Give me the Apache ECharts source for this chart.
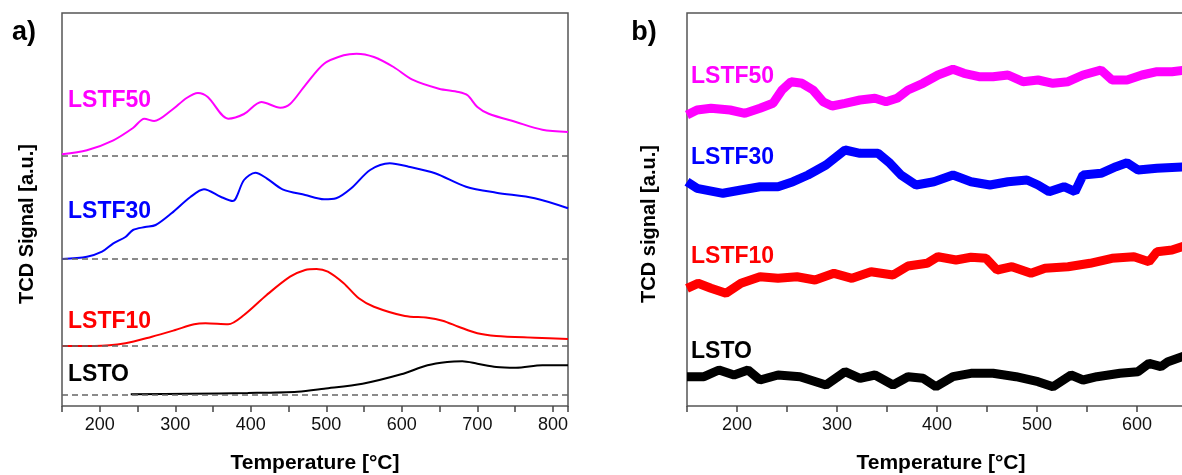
<!DOCTYPE html>
<html>
<head>
<meta charset="utf-8">
<script src="https://cdn.jsdelivr.net/npm/echarts@6/dist/echarts.min.js"></script>
<style>
  html, body { margin: 0; padding: 0; background: #fff; }
  #chart { width: 1182px; height: 475px; }
</style>
</head>
<body>
<div id="chart"></div>
<script>
// panel a) signal above each dashed baseline, [temperature, signal]
const lstf50a = [[150,1.7],[183,5.7],[218,15.7],[244,28],[259,37.3],[272,35],[295,45.7],[315,58],[330,63],[343,59],[370,37.3],[391,42],[414,54],[439,48.3],[452,52],[472,70.7],[497,92.3],[523,100.7],[540,102.3],[563,99],[589,89],[614,76.3],[649,67.3],[675,64],[687,60.7],[700,49],[715,42.3],[751,34],[786,26.3],[820,24]];
const lstf30a = [[150,0],[183,2.3],[203,7.3],[218,15.7],[234,22],[244,29],[260,32],[274,34],[295,45.7],[320,62],[338,69.7],[360,62.3],[376,58],[391,79],[406,86.3],[421,80.7],[442,69.7],[472,64],[497,59.7],[513,60.7],[533,70.7],[558,89],[584,95.7],[609,92.3],[644,85.7],[685,72.3],[725,66.3],[776,60.7],[820,50.7]];
const lstf10a = [[150,0],[193,0],[234,2.7],[269,9.3],[300,16],[325,21.7],[340,22.7],[370,21.7],[391,31],[421,51],[452,69.3],[472,76],[487,77],[502,74.3],[523,62.7],[543,47.7],[563,39.3],[604,30],[634,28.3],[654,25.3],[675,19.3],[700,12.7],[725,10],[776,8.3],[820,7]];
const lstoa = [[241,0.7],[320,1.3],[396,2],[462,3.3],[497,6.3],[548,11.3],[599,20.7],[634,29.7],[660,33],[680,33.7],[700,31.3],[725,28],[751,27.3],[786,29.7],[820,29.7]];
// baselines (dashed lines) of panel a
const baseA = [250, 147, 60, 11];

// panel b) raw signal, [temperature, signal]
const lstf50b = [[150,291],[160,296],[174,297.7],[193,296],[208,292.7],[223,297.7],[236,302.7],[245,316],[254,324.3],[265,322.7],[276,316],[286,304.3],[295,300],[308,302.7],[323,306],[338,307.7],[349,304.3],[360,307.7],[371,316],[386,322.7],[401,331],[416,336.7],[427,332.7],[442,329.3],[456,329.3],[471,331],[486,324.3],[501,326],[516,322.7],[531,324.3],[546,331],[564,336],[575,326],[590,326],[605,331],[620,334.3],[635,334.3],[650,336]];
const lstf30b = [[150,224.3],[160,217.7],[186,212.7],[204,216],[223,219.3],[241,219.3],[256,224.3],[271,231],[289,241],[308,256],[323,252.7],[341,252.7],[353,242.7],[364,231],[379,221],[397,224.3],[416,231],[434,224.3],[453,221],[471,224.3],[490,226],[501,221],[512,214.3],[527,219.3],[538,214.3],[546,231],[564,232.7],[579,239.3],[590,243.3],[601,236],[620,237.7],[650,239.3]];
const lstf10b = [[150,117.7],[161,122.7],[174,117.7],[189,112.7],[204,122.7],[223,129.3],[241,127.7],[260,129.3],[278,126],[297,132.7],[315,127.7],[334,134.3],[356,131],[371,140],[390,142.7],[401,149.3],[419,146],[434,148.7],[449,147.7],[460,136],[475,139.3],[494,132.7],[508,137.7],[531,139.3],[553,142.7],[575,147.7],[597,149.3],[612,144.3],[620,154.3],[635,156],[650,161]];
const lstob = [[150,29.3],[167,29.3],[182,36],[197,31],[211,36],[223,26],[241,31],[263,29.3],[289,21],[308,34.3],[323,27.7],[338,31],[356,21],[371,29.3],[386,27.7],[399,19.3],[416,29.3],[434,32.7],[456,32.7],[479,29.3],[501,24.3],[516,19.3],[534,31],[546,26],[560,29.3],[583,32.7],[601,34.3],[612,42.7],[624,39.3],[631,44.3],[650,51]];

const names = ['LSTF50', 'LSTF30', 'LSTF10', 'LSTO'];
const colors = ['#ff00ff', '#0000ff', '#ff0000', '#000000'];
const font = 'Arial, "Liberation Sans", sans-serif';

const chart = echarts.init(document.getElementById('chart'));

const xAxisCommon = {
  type: 'value',
  interval: 50,
  axisLine: { show: false },
  axisTick: { show: true, inside: false, length: 6, lineStyle: { color: '#444', width: 1.5 } },
  axisLabel: {
    margin: 10, color: '#111', fontSize: 18, fontFamily: font,
    formatter: v => (v % 100 === 0 ? String(v) : '')
  },
  splitLine: { show: false }
};
const yAxisCommon = {
  type: 'value', min: 0, max: 393,
  axisLine: { show: false }, axisTick: { show: false },
  axisLabel: { show: false }, splitLine: { show: false }
};

const shift = (arr, b) => arr.map(p => [p[0], p[1] + b]);
const dashed = b => ({
  silent: true, symbol: 'none', label: { show: false },
  lineStyle: { color: '#666', type: [6, 4], width: 1.5 },
  data: [{ yAxis: b }]
});

const seriesA = [lstf50a, lstf30a, lstf10a, lstoa].map((d, i) => ({
  type: 'line', xAxisIndex: 0, yAxisIndex: 0,
  data: shift(d, baseA[i]), showSymbol: false, smooth: 0.3,
  lineStyle: { color: colors[i], width: 2 }, z: 3,
  markLine: dashed(baseA[i])
}));
const seriesB = [lstf50b, lstf30b, lstf10b, lstob].map((d, i) => ({
  type: 'line', xAxisIndex: 1, yAxisIndex: 1,
  data: d, showSymbol: false,
  lineStyle: { color: colors[i], width: 9, join: 'bevel' }
}));

const labelA = [101, 212, 321.5, 375];
const labelB = [76.5, 158, 256.5, 351.5];
const txt = (x, y, text, color, size, extra) => Object.assign({
  type: 'text', x: x, y: y, z: 10,
  style: { text: text, fill: color, font: 'bold ' + size + 'px ' + font, textVerticalAlign: 'middle' }
}, extra || {});

const graphics = [];
names.forEach((n, i) => {
  graphics.push(txt(68, labelA[i], n, colors[i], 23));
  graphics.push(txt(691, labelB[i], n, colors[i], 23));
});
graphics.push(txt(24, 33, 'a)', '#000', 27, {}));
graphics[graphics.length - 1].style.textAlign = 'center';
graphics.push(txt(644, 33, 'b)', '#000', 27, {}));
graphics[graphics.length - 1].style.textAlign = 'center';
[[27, 'TCD Signal [a.u.]'], [649, 'TCD signal [a.u.]']].forEach(([x, t]) => {
  const g = txt(x, 224, t, '#000', 20, { rotation: Math.PI / 2 });
  g.style.textAlign = 'center';
  graphics.push(g);
});
[[315, 'Temperature [°C]'], [941, 'Temperature [°C]']].forEach(([x, t]) => {
  const g = txt(x, 463, t, '#000', 21);
  g.style.textAlign = 'center';
  graphics.push(g);
});

const option = {
  backgroundColor: '#fff',
  animation: false,
  grid: [
    { left: 62, top: 13, width: 506, height: 393, show: true, borderColor: '#555', borderWidth: 1.5, outerBoundsMode: 'none' },
    { left: 687, top: 13, width: 650, height: 393, show: true, borderColor: '#555', borderWidth: 1.5, outerBoundsMode: 'none' }
  ],
  xAxis: [
    Object.assign({}, xAxisCommon, { gridIndex: 0, min: 150, max: 820 }),
    Object.assign({}, xAxisCommon, { gridIndex: 1, min: 150, max: 800 })
  ],
  yAxis: [
    Object.assign({}, yAxisCommon, { gridIndex: 0 }),
    Object.assign({}, yAxisCommon, { gridIndex: 1 })
  ],
  graphic: graphics,
  series: seriesA.concat(seriesB)
};
chart.setOption(option);
</script>
</body>
</html>
